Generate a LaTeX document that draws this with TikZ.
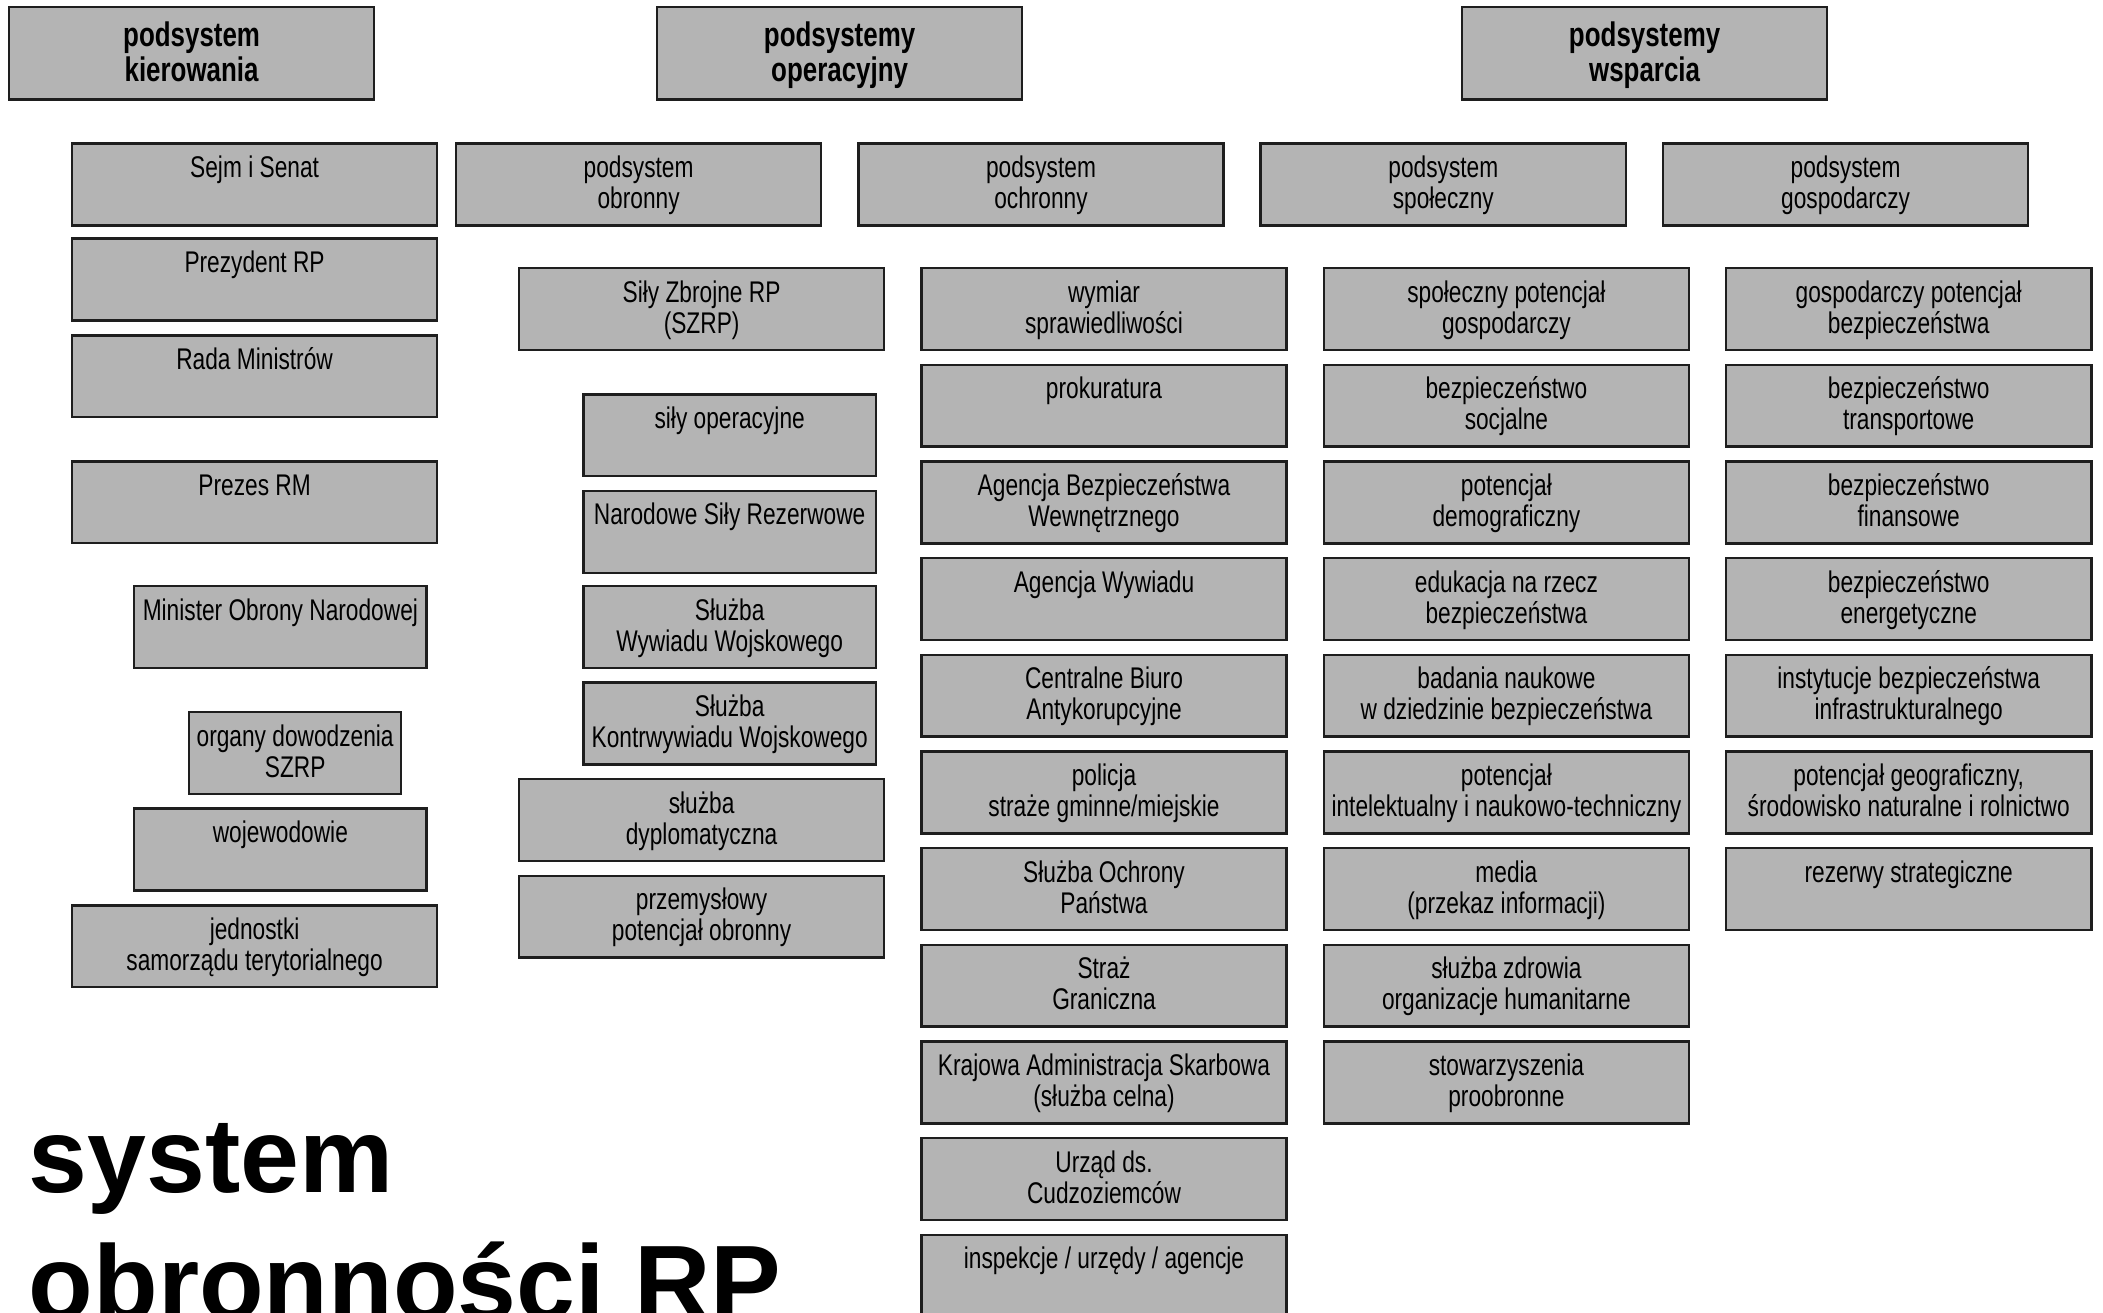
\documentclass[tikz,border=0pt]{standalone}
\usepackage{fontspec}
\setmainfont{Liberation Sans}
\newfontfamily\narrowfont{Liberation Sans}[FakeStretch=0.76]
\usepackage{tikz}
\usetikzlibrary{positioning}
\usepackage{xcolor}

\definecolor{boxgray}{RGB}{180,180,180}
\definecolor{boxline}{RGB}{30,30,30}

\tikzset{
  box/.style={draw=boxline, line width=0.7pt, fill=boxgray, inner sep=0pt, outer sep=0pt,
    anchor=north west, align=flush center, text=black},
  head/.style={box, font=\narrowfont\bfseries\fontsize{9.7}{10.0}\selectfont,
    text width=3.65cm, text height=0.39cm, text depth=0.535cm},
  unit/.style={box, font=\narrowfont\fontsize{8.5}{8.8}\selectfont,
    text width=3.65cm, text height=0.34cm, text depth=0.478cm},
  narrow/.style={unit, text width=2.924cm},
  tiny/.style={unit, text width=2.12cm}
}

\begin{document}
\begin{tikzpicture}[x=0.01cm, y=-0.01cm, node distance=0.148cm]
\useasboundingbox (0,0) rectangle (2103,1312);

% naglowki
\node[head] (hkier) at (9,7) {podsystem\\kierowania};
\node[head] (hoper) at (657,7) {podsystemy\\operacyjny};
\node[head] (hwsp) at (1462,7) {podsystemy\\wsparcia};

% podsystemy
\node[unit] (sejm) at (72,143.5) {Sejm i Senat};
\node[unit] (pobr) at (456,143.5) {podsystem\\obronny};
\node[unit] (poch) at (858.4,143.5) {podsystem\\ochronny};
\node[unit] (pspo) at (1260.7,143.5) {podsystem\\społeczny};
\node[unit] (pgos) at (1663,143.5) {podsystem\\gospodarczy};

% kierowanie
\node[unit] (prez) at (72,238.7) {Prezydent RP};
\node[unit] (rada) at (72,335.3) {Rada Ministrów};
\node[unit] (premier) at (72,461.4) {Prezes RM};
\node[narrow] (mon) at (134.1,586.1) {Minister Obrony Narodowej};
\node[tiny] (dowodz) at (189.1,712.2) {organy dowodzenia\\SZRP};
\node[narrow] (woj) at (134.1,808.7) {wojewodowie};
\node[unit] (samorz) at (72,905.3) {jednostki\\samorządu terytorialnego};

% obronny
\node[unit] (szrp) at (519,268.2) {Siły Zbrojne RP\\(SZRP)};
\node[narrow] (operac) at (583.4,394.3) {siły operacyjne};
\node[narrow] (rezerw) at (583.4,490.9) {Narodowe Siły Rezerwowe};
\node[narrow] (sww) at (583.4,586.1) {Służba\\Wywiadu Wojskowego};
\node[narrow] (skw) at (583.4,682.7) {Służba\\Kontrwywiadu Wojskowego};
\node[unit] (dyplom) at (519,779.2) {służba\\dyplomatyczna};
\node[unit] (przem) at (519,875.8) {przemysłowy\\potencjał obronny};

% ochronny
\node[unit] (sad) at (921.4,268.2) {wymiar\\sprawiedliwości};
\node[unit] (prok) [below=of sad.south west, anchor=north west] {prokuratura};
\node[unit] (abw) [below=of prok.south west, anchor=north west] {Agencja Bezpieczeństwa\\Wewnętrznego};
\node[unit] (aw) [below=of abw.south west, anchor=north west] {Agencja Wywiadu};
\node[unit] (cba) [below=of aw.south west, anchor=north west] {Centralne Biuro\\Antykorupcyjne};
\node[unit] (policja) [below=of cba.south west, anchor=north west] {policja\\straże gminne/miejskie};
\node[unit] (sop) [below=of policja.south west, anchor=north west] {Służba Ochrony\\Państwa};
\node[unit] (sg) [below=of sop.south west, anchor=north west] {Straż\\Graniczna};
\node[unit] (kas) [below=of sg.south west, anchor=north west] {Krajowa Administracja Skarbowa\\(służba celna)};
\node[unit] (udsc) [below=of kas.south west, anchor=north west] {Urząd ds.\\Cudzoziemców};
\node[unit] (insp) [below=of udsc.south west, anchor=north west] {inspekcje / urzędy / agencje};

% spoleczny
\node[unit] (spot) at (1323.8,268.2) {społeczny potencjał\\gospodarczy};
\node[unit] (socj) [below=of spot.south west, anchor=north west] {bezpieczeństwo\\socjalne};
\node[unit] (demo) [below=of socj.south west, anchor=north west] {potencjał\\demograficzny};
\node[unit] (eduk) [below=of demo.south west, anchor=north west] {edukacja na rzecz\\bezpieczeństwa};
\node[unit] (bada) [below=of eduk.south west, anchor=north west] {badania naukowe\\w dziedzinie bezpieczeństwa};
\node[unit] (intel) [below=of bada.south west, anchor=north west] {potencjał\\intelektualny i naukowo-techniczny};
\node[unit] (media) [below=of intel.south west, anchor=north west] {media\\(przekaz informacji)};
\node[unit] (zdrow) [below=of media.south west, anchor=north west] {służba zdrowia\\organizacje humanitarne};
\node[unit] (stow) [below=of zdrow.south west, anchor=north west] {stowarzyszenia\\proobronne};

% gospodarczy
\node[unit] (gpot) at (1726.1,268.2) {gospodarczy potencjał\\bezpieczeństwa};
\node[unit] (trans) [below=of gpot.south west, anchor=north west] {bezpieczeństwo\\transportowe};
\node[unit] (finan) [below=of trans.south west, anchor=north west] {bezpieczeństwo\\finansowe};
\node[unit] (energ) [below=of finan.south west, anchor=north west] {bezpieczeństwo\\energetyczne};
\node[unit] (infra) [below=of energ.south west, anchor=north west] {instytucje bezpieczeństwa\\infrastrukturalnego};
\node[unit] (geo) [below=of infra.south west, anchor=north west] {potencjał geograficzny,\\środowisko naturalne i rolnictwo};
\node[unit] (rezerwy) [below=of geo.south west, anchor=north west] {rezerwy strategiczne};

% tytul (baseline of the last line)
\node[anchor=base west, align=left, inner sep=0pt,
  font=\bfseries\fontsize{30.1}{36.1}\selectfont] (tytul) at (28,1319) {system\\obronności RP};

\end{tikzpicture}
\end{document}
